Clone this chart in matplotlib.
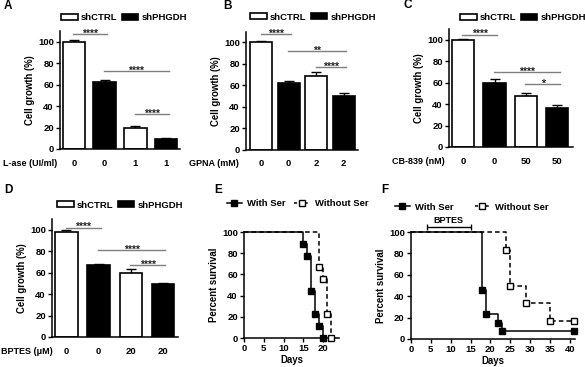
import matplotlib
matplotlib.use("Agg")
import matplotlib.pyplot as plt
from matplotlib.patches import Patch
from matplotlib.lines import Line2D

W, H = 585, 367

plt.rcParams["font.family"] = ["Liberation Sans", "DejaVu Sans"]
plt.rcParams["font.weight"] = "bold"
plt.rcParams["axes.labelweight"] = "bold"
plt.rcParams["font.size"] = 6.8

# ---- bar panels (A-D) ----
treatments = ["L-ase (UI/ml)", "GPNA (mM)", "CB-839 (nM)", "BPTES (\u03bcM)"]
doses_a = ["0", "0", "1", "1"]
doses_b = ["0", "0", "2", "2"]
doses_c = ["0", "0", "50", "50"]
doses_d = ["0", "0", "20", "20"]
growth_a = [100, 62, 20, 9.5]
growth_b = [100, 62, 69, 50]
growth_c = [100, 60, 48, 36]
growth_d = [98, 67, 60, 49]
err_a = [1.5, 2, 1, 0.5]
err_b = [1.5, 2, 3, 2.5]
err_c = [1, 3, 2, 3]
err_d = [1.5, 1, 3, 1]
sig_pairs = [(0, 1), (1, 3), (2, 3)]
sig_y_a = [107, 72.7, 32.6]
sig_y_b = [107.8, 91.6, 77]
sig_y_c = [104.7, 70, 58.6]
sig_y_d = [102, 81, 67]
stars_a = ["****", "****", "****"]
stars_b = ["****", "**", "****"]
stars_c = ["****", "****", "*"]
stars_d = ["****", "****", "****"]
groups = ["shCTRL", "shPHGDH"]

# ---- survival panels (E-F) ----
e_days_ser = [0, 15, 16, 17, 18, 19, 20]
e_surv_ser = [100, 88.9, 77.8, 44.4, 22.2, 11.1, 0]
e_days_noser = [0, 19, 20, 21, 22]
e_surv_noser = [100, 66.7, 55.6, 22.2, 0]
f_days_ser = [0, 18, 19, 22, 23, 41]
f_surv_ser = [100, 46.2, 23.1, 15.4, 7.7, 7.7]
f_days_noser = [0, 24, 25, 29, 35, 41]
f_surv_noser = [100, 83.3, 50, 33.3, 16.7, 16.7]
bptes_start, bptes_end = 4, 15


def add_axes_px(fig, left, right, top, bottom):
    return fig.add_axes([left / W, 1 - bottom / H, (right - left) / W, (bottom - top) / H])


def style_axes(ax):
    for side in ["top", "right"]:
        ax.spines[side].set_visible(False)
    for side in ["left", "bottom"]:
        ax.spines[side].set_linewidth(1.1)
        ax.spines[side].set_clip_on(False)


def bar_panel(ax, values, errors, doses, treatment, sig_y, stars, xlim, width, label_x):
    x = list(range(len(values)))
    colors = ["white", "black", "white", "black"]
    ax.errorbar(x, values, yerr=[[0] * len(errors), errors], fmt="none",
                ecolor="black", elinewidth=1, capsize=3.5, capthick=1, zorder=1)
    ax.bar(x, values, width=width, color=colors, edgecolor="black",
           linewidth=1.2, zorder=2)
    ax.set_xlim(*xlim)
    ax.set_ylim(0, 110)
    ax.set_yticks([0, 20, 40, 60, 80, 100])
    ax.set_xticks(x)
    ax.set_xticklabels(doses)
    ax.tick_params(axis="x", length=0, pad=7, labelsize=6.8)
    ax.tick_params(axis="y", length=3, width=1, pad=1.5, labelsize=6.8)
    ax.set_ylabel("Cell growth (%)", fontsize=6.9, labelpad=2)
    style_axes(ax)
    for (i, j), y, s in zip(sig_pairs, sig_y, stars):
        ax.plot([i - 0.02, j + 0.08], [y, y], color="#7f7f7f", lw=1, clip_on=False)
        ax.annotate(s, xy=((i + j + 0.06) / 2, y), xytext=(0, -1.8),
                    textcoords="offset points", ha="center", va="baseline",
                    fontsize=7.5, color="#222222", annotation_clip=False)
    ax.annotate(treatment, xy=(label_x, 0), xycoords="data", xytext=(0, -7),
                textcoords="offset points", ha="right", va="top", fontsize=6.5,
                annotation_clip=False)


def survival_panel(ax, days_ser, surv_ser, days_noser, surv_noser, xmax, xticks):
    ax.step(days_noser, surv_noser, where="post", color="black", lw=1.1,
            ls=(0, (3, 2)), clip_on=False, zorder=2)
    ax.step(days_ser, surv_ser, where="post", color="black", lw=1.1,
            clip_on=False, zorder=3)
    ax.plot(days_ser[1:], surv_ser[1:], "s", ms=3.8, mfc="black", mec="black",
            clip_on=False, zorder=4)
    ax.plot(days_noser[1:], surv_noser[1:], "s", ms=3.8, mfc="white", mec="black",
            mew=1, clip_on=False, zorder=5)
    ax.set_xlim(0, xmax)
    ax.set_ylim(0, 100)
    ax.set_xticks(xticks)
    ax.set_yticks([0, 20, 40, 60, 80, 100])
    ax.tick_params(axis="both", length=3, width=1, pad=1.5, labelsize=6.8)
    ax.set_xlabel("Days", fontsize=6.9, labelpad=1)
    ax.set_ylabel("Percent survival", fontsize=6.9, labelpad=2)
    style_axes(ax)


fig = plt.figure(figsize=(W / 100, H / 100), dpi=100)

bar_specs = [
    ((60, 180, 31, 149), growth_a, err_a, doses_a, treatments[0], sig_y_a, stars_a,
     (-0.45, 3.45), 0.73, -0.55, (61, 17.5)),
    ((246, 358, 31.7, 149.7), growth_b, err_b, doses_b, treatments[1], sig_y_b, stars_b,
     (-0.55, 3.52), 0.8, -0.82, (250, 17)),
    ((449, 573, 29, 147), growth_c, err_c, doses_c, treatments[2], sig_y_c, stars_c,
     (-0.45, 3.5), 0.71, -0.58, (460, 18)),
    ((52, 178, 219, 337), growth_d, err_d, doses_d, treatments[3], sig_y_d, stars_d,
     (-0.45, 3.47), 0.7, -0.42, (57, 205)),
]

bar_handles = [Patch(facecolor="white", edgecolor="black", linewidth=1.2),
               Patch(facecolor="black", edgecolor="black", linewidth=1.2)]

for box, vals, errs, doses, treat, sy, st, xl, wd, lx, leg_pos in bar_specs:
    ax = add_axes_px(fig, *box)
    bar_panel(ax, vals, errs, doses, treat, sy, st, xl, wd, lx)
    fig.legend(bar_handles, groups, loc="center left",
               bbox_to_anchor=(leg_pos[0] / W, 1 - leg_pos[1] / H),
               ncol=2, frameon=False, fontsize=6.8, handlelength=1.75,
               handleheight=0.6, handletextpad=0.35, columnspacing=0.45,
               borderpad=0, borderaxespad=0)

ax_e = add_axes_px(fig, 244, 339, 232, 338)
survival_panel(ax_e, e_days_ser, e_surv_ser, e_days_noser, e_surv_noser,
               24, [0, 5, 10, 15, 20])

ax_f = add_axes_px(fig, 411, 575, 232, 339)
survival_panel(ax_f, f_days_ser, f_surv_ser, f_days_noser, f_surv_noser,
               41.3, [0, 5, 10, 15, 20, 25, 30, 35, 40])
mid = (bptes_start + bptes_end) / 2
ax_f.errorbar([mid], [104.4], xerr=[(bptes_end - bptes_start) / 2], fmt="none",
              ecolor="black", elinewidth=1, capsize=2, capthick=1, clip_on=False)
ax_f.text(mid, 107, "BPTES", ha="center", va="bottom", fontsize=6.5)

surv_handles = [
    Line2D([], [], color="black", lw=1.1, marker="s", ms=3.8, mfc="black", mec="black"),
    Line2D([], [], color="black", lw=1.1, ls=(0, (2, 1.5)), marker="s", ms=3.8,
           mfc="white", mec="black"),
]
surv_labels = ["With Ser", "Without Ser"]
for pos, colsp in [((227, 204), 0.9), ((395, 207), 2.2)]:
    fig.legend(surv_handles, surv_labels, loc="center left",
               bbox_to_anchor=(pos[0] / W, 1 - pos[1] / H), ncol=2,
               frameon=False, fontsize=6.8, handlelength=1.55, handletextpad=0.6,
               columnspacing=colsp, borderpad=0, borderaxespad=0, numpoints=1)

for letter, (px, py) in zip("ABCDEF", [(8, 6), (227, 6), (408, 5), (8, 190),
                                        (218, 190), (385, 190)]):
    fig.text(px / W, 1 - py / H, letter, fontsize=8.5, fontweight="bold",
             ha="center", va="center")

fig.savefig("out.png", dpi=100)
